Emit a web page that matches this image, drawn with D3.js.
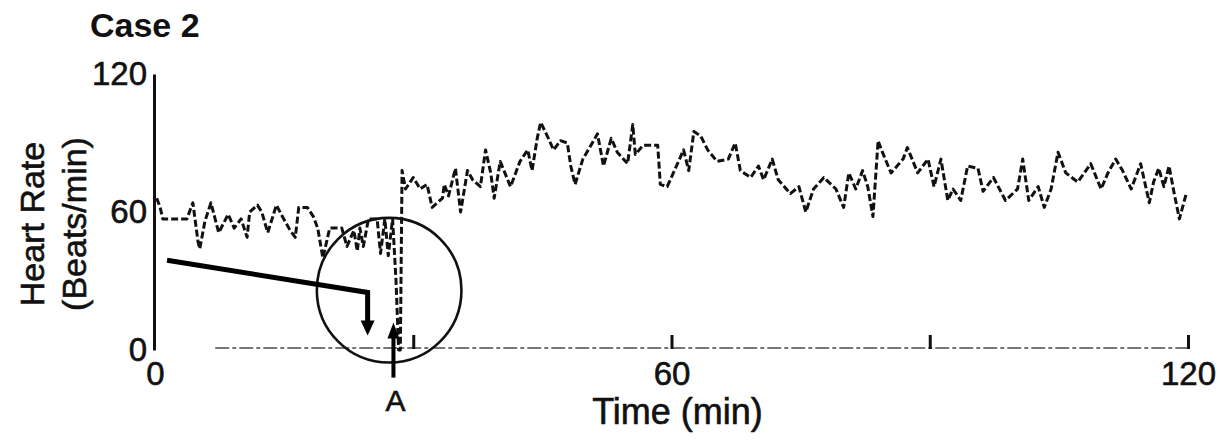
<!DOCTYPE html>
<html>
<head>
<meta charset="utf-8">
<script src="https://cdn.jsdelivr.net/npm/d3@7"></script>
<style>
  html, body { margin: 0; padding: 0; background: #fff; }
  svg { display: block; font-family: "Liberation Sans", Arial, Helvetica, sans-serif; }
</style>
</head>
<body>
<svg id="chart" width="1220" height="440"></svg>
<script>
// ---- data ----
const title = "Case 2";
const xLabel = "Time (min)";
const yLabelLines = ["Heart Rate", "(Beats/min)"];
const yTicks = [0, 60, 120];
const xTickLabels = [0, 60, 120];
const xTickMarks = [30, 60, 90, 120];
const eventLabel = "A";
const eventTime = 27.7;

const timeMin = [
  0.2, 0.6, 0.9, 2.3, 3.7, 4.4, 5.0, 5.2, 5.8, 6.5, 7.4, 8.5, 9.2, 10.0, 10.7, 11.0, 11.9, 12.4,
  13.1, 14.1, 14.8, 15.7, 16.3, 16.7, 17.7, 18.4, 18.9, 19.5, 20.3, 20.9, 21.7, 22.3, 23.1, 23.5,
  23.8, 24.2, 24.8, 25.8, 26.2, 26.7, 27.1, 27.6, 28.0, 28.3, 28.5,
  28.7, 29.1, 30.0, 30.8, 31.6, 32.2, 33.4, 33.6, 34.1, 34.9, 35.5, 36.3, 36.9, 37.8, 38.4, 39.0,
  39.4, 40.1, 41.3, 42.4, 43.3, 43.8, 44.4, 44.8, 45.7, 46.3, 47.1, 47.9, 48.3, 48.8, 49.7, 50.8,
  51.4, 52.1, 53.0, 53.7, 54.9, 55.5, 55.8, 56.7, 58.4, 58.7, 59.5, 60.7,
  61.4, 62.0, 62.6, 63.4, 64.2, 65.3, 66.6, 67.4, 68.0, 69.2, 70.1, 70.7, 71.7, 72.4, 73.8,
  74.8, 75.6, 76.5, 77.7, 79.1, 80.0, 80.6, 81.4, 82.2, 82.8, 83.4, 84.0, 84.5, 85.5, 86.9, 87.4,
  88.6, 89.8, 90.5, 91.3, 92.1, 92.7, 93.6, 94.4, 95.6, 96.2, 97.4, 98.8, 100.2, 100.8, 101.5,
  102.6, 103.3, 104.1, 104.9, 105.8, 107.2, 108.7, 109.9, 110.7, 111.6, 112.4, 113.4, 114.5,
  115.5, 116.0, 116.6, 117.2, 117.8, 118.4, 119.0, 119.8
];
const heartRate = [
  66, 62, 57, 57, 57, 64, 47, 44, 56, 64, 51, 59, 53, 57, 49, 60, 63, 60,
  51, 63, 58, 52, 49, 62, 62, 58, 53, 40, 53, 53, 53, 45, 52, 43,
  53, 45, 57, 57, 42, 57, 41, 57, 30, 0, 0,
  78, 70, 75, 70, 72, 62, 66, 72, 67, 79, 60, 78, 74, 71, 87, 77,
  66, 82, 71, 82, 87, 78, 92, 99, 92, 87, 91, 90, 80, 72, 83, 90,
  94, 80, 92, 86, 81, 98, 85, 89, 89, 72, 71, 81,
  87, 78, 95, 93, 87, 82, 83, 90, 78, 75, 80, 74, 83, 74, 68,
  71, 60, 70, 75, 70, 62, 77, 70, 78, 71, 58, 91, 86, 77, 83, 88,
  77, 83, 71, 83, 65, 70, 65, 80, 79, 69, 75, 65, 70, 83, 65,
  71, 62, 70, 86, 77, 73, 81, 70, 77, 83, 78, 70, 81,
  64, 73, 79, 71, 80, 68, 57, 68
];
// baseline (zero-line) extent, in minutes
const baselineStart = 7;
const baselineEnd = 120;
// annotation arrow (minutes, beats/min)
const annotArrowT = [1.4, 24.7, 24.7];
const annotArrowHR = [39, 25, 12];
// circle around the event
const circleT = 27.2, circleHR = 26, circleRadiusMin = 8.4;

// ---- drawing ----
const svg = d3.select("#chart");
const x = d3.scaleLinear().domain([0, 120]).range([155, 1188]);
const y = d3.scaleLinear().domain([0, 120]).range([350, 74]);
const ink = "#111";

// title
svg.append("text").attr("x", 90).attr("y", 37)
  .attr("font-size", 34).attr("font-weight", "bold").attr("fill", ink).text(title);

// y axis
const yAxis = svg.append("g").attr("transform", `translate(${x(0) - 1},0)`)
  .call(d3.axisLeft(y).tickValues(yTicks).tickSize(0).tickPadding(7).tickFormat(d3.format("d")));
yAxis.select(".domain").attr("stroke", ink).attr("stroke-width", 3);
yAxis.selectAll("text").attr("font-size", 33).attr("fill", ink)
  .attr("stroke", ink).attr("stroke-width", 0.6)
  .attr("font-family", "Liberation Sans, Arial, sans-serif");

// y label (two rotated lines)
const yl = svg.append("g").attr("transform", "translate(0,224) rotate(-90)");
yLabelLines.forEach((s, i) => {
  yl.append("text").attr("x", 0).attr("y", 44 + i * 42)
    .attr("text-anchor", "middle").attr("font-size", 34).attr("fill", ink)
    .attr("stroke", ink).attr("stroke-width", 0.6).text(s);
});

// x baseline (broken grey zero line)
svg.append("line")
  .attr("x1", x(baselineStart)).attr("x2", x(baselineEnd))
  .attr("y1", y(0) - 2).attr("y2", y(0) - 2)
  .attr("stroke", "#777").attr("stroke-width", 2)
  .attr("stroke-dasharray", "14,3,4,3");

// x tick marks (upward)
const xTop = svg.append("g").attr("transform", `translate(0,${y(0) - 1})`)
  .call(d3.axisTop(x).tickValues(xTickMarks).tickSize(14).tickFormat(""));
xTop.select(".domain").remove();
xTop.selectAll("line").attr("stroke", ink).attr("stroke-width", 3);

// x tick labels
const xAxis = svg.append("g").attr("transform", `translate(0,${y(0)})`)
  .call(d3.axisBottom(x).tickValues(xTickLabels).tickSize(0).tickPadding(12).tickFormat(d3.format("d")));
xAxis.select(".domain").remove();
xAxis.selectAll("text").attr("font-size", 33).attr("fill", ink)
  .attr("stroke", ink).attr("stroke-width", 0.6)
  .attr("font-family", "Liberation Sans, Arial, sans-serif");

// x label
svg.append("text").attr("x", x(60) + 6).attr("y", 424)
  .attr("text-anchor", "middle").attr("font-size", 36).attr("fill", ink)
  .attr("stroke", ink).attr("stroke-width", 0.6).text(xLabel);

// heart-rate trace
const line = d3.line().x((d, i) => x(timeMin[i])).y(d => y(d));
svg.append("path").datum(heartRate)
  .attr("d", line)
  .attr("fill", "none").attr("stroke", ink).attr("stroke-width", 3)
  .attr("stroke-linejoin", "round")
  .attr("stroke-dasharray", "7,3");

// circle
svg.append("circle")
  .attr("cx", x(circleT)).attr("cy", y(circleHR))
  .attr("r", x(circleRadiusMin) - x(0))
  .attr("fill", "none").attr("stroke", ink).attr("stroke-width", 2.6);

// annotation arrow (bold, pointing down)
const arrowLine = d3.line().x((d, i) => x(annotArrowT[i])).y(d => y(d));
svg.append("path").datum(annotArrowHR).attr("d", arrowLine)
  .attr("fill", "none").attr("stroke", "#000").attr("stroke-width", 5)
  .attr("stroke-linejoin", "miter");
{
  const tx = x(annotArrowT[2]), ty = y(annotArrowHR[2]);
  svg.append("path")
    .attr("d", `M${tx - 7},${ty - 2} L${tx + 7},${ty - 2} L${tx},${ty + 13} Z`)
    .attr("fill", "#000");
}

// event arrow "A" (pointing up)
{
  const ex = x(eventTime);
  svg.append("line").attr("x1", ex).attr("x2", ex)
    .attr("y1", y(-12)).attr("y2", y(8))
    .attr("stroke", "#000").attr("stroke-width", 4);
  const tip = y(12);
  svg.append("path")
    .attr("d", `M${ex - 6},${tip + 16} L${ex + 6},${tip + 16} L${ex},${tip} Z`)
    .attr("fill", "#000");
  svg.append("text").attr("x", ex + 2).attr("y", 411)
    .attr("text-anchor", "middle").attr("font-size", 30).attr("fill", ink)
    .attr("stroke", ink).attr("stroke-width", 0.6).text(eventLabel);
}
</script>
</body>
</html>
